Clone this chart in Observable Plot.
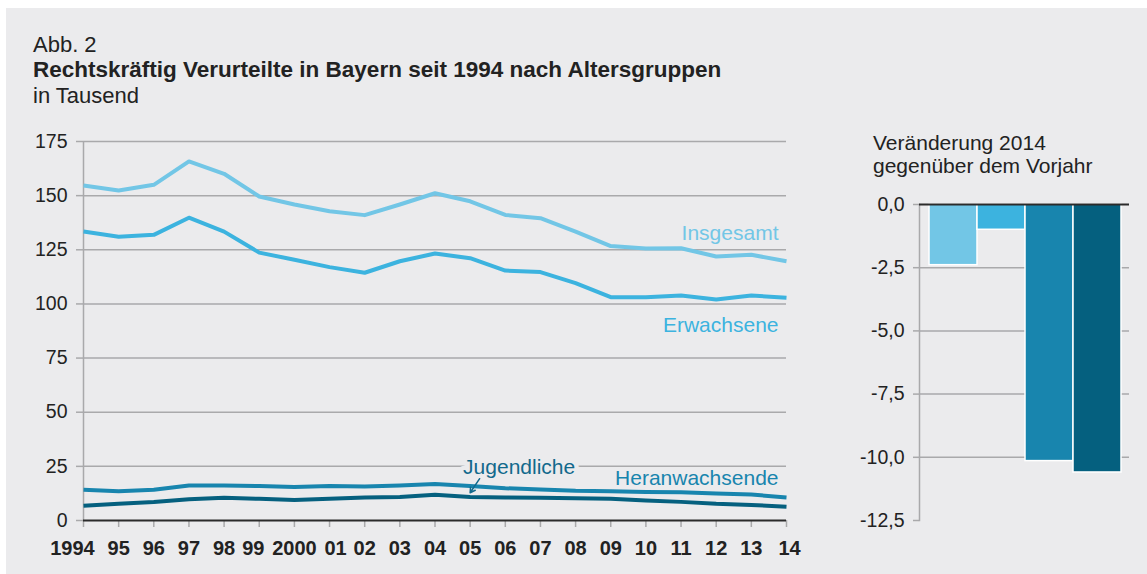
<!DOCTYPE html>
<html><head><meta charset="utf-8">
<script src="https://cdn.jsdelivr.net/npm/d3@7"></script>
<script src="https://cdn.jsdelivr.net/npm/@observablehq/plot@0.6"></script>
<style>
body{margin:0;background:#fff;width:1147px;height:574px;overflow:hidden;position:relative;font-family:"Liberation Sans",Arial,sans-serif;color:#222}
#panel{position:absolute;left:6px;top:8px;width:1141px;height:566px;background:#ebebed}
.t{position:absolute;white-space:nowrap;line-height:1;color:#222}
#left,#right{position:absolute;top:120px}
#left{left:0}
#right{left:830px}
</style></head><body>
<div id="panel"></div>
<div class="t" style="left:33px;top:34px;font-size:22px;">Abb. 2</div>
<div class="t" style="left:33px;top:58.5px;font-size:22.5px;font-weight:bold;">Rechtskräftig Verurteilte in Bayern seit 1994 nach Altersgruppen</div>
<div class="t" style="left:33px;top:84.5px;font-size:22px;">in Tausend</div>
<div class="t" style="left:873px;top:131px;font-size:21px;line-height:23px;">Veränderung 2014<br>gegenüber dem Vorjahr</div>
<div id="left"></div>
<div id="right"></div>
<script>
const years = [1994,1995,1996,1997,1998,1999,2000,2001,2002,2003,2004,2005,2006,2007,2008,2009,2010,2011,2012,2013,2014];
const yearLabels = ["1994","95","96","97","98","99","2000","01","02","03","04","05","06","07","08","09","10","11","12","13","14"];
const seriesNames = ["Insgesamt","Erwachsene","Heranwachsende","Jugendliche"];
const insgesamt = [154.7,152.4,155.0,165.8,160.1,149.6,145.9,142.8,141.0,145.9,151.1,147.4,141.1,139.6,133.4,126.7,125.6,125.7,121.9,122.7,119.7];
const erwachsene = [133.4,131.0,131.9,139.8,133.4,123.7,120.4,117.0,114.4,119.7,123.3,121.1,115.4,114.7,109.6,103.1,103.1,103.9,102.0,103.9,102.8];
const heranwachsende = [14.2,13.5,14.2,16.2,16.2,15.9,15.5,15.9,15.7,16.2,16.9,15.9,14.9,14.3,13.7,13.5,13.2,13.1,12.5,12.0,10.6];
const jugendliche = [6.8,7.7,8.5,9.8,10.5,10.0,9.5,10.0,10.6,10.8,11.9,10.8,10.6,10.5,10.3,10.0,9.2,8.6,7.7,7.2,6.3];
const changes2014 = [-2.4,-1.0,-10.15,-10.6];
const yTicksLeft = [0,25,50,75,100,125,150,175];
const yTicksRight = [0,-2.5,-5,-7.5,-10,-12.5];
const colors = ["#72c6e6","#3cb3df","#1885ae","#05607f"];
const labelColors = ["#72c6e6","#3cb3df","#1885ae","#12698c"];
// annotation arrow (data space) for "Jugendliche"
const arrowJug = [{x1:2005.27,y1:19.3,x2:2005.0,y2:12.8}];

const valuesBySeries = [insgesamt, erwachsene, heranwachsende, jugendliche];
const rows = seriesNames.flatMap((s,i)=>years.map((y,j)=>({series:s, year:y, value:valuesBySeries[i][j]})));
const lastRows = seriesNames.map((s,i)=>({series:s, year:2014, value:valuesBySeries[i][20]}));
const jugRow = [{series:"Jugendliche", year:2005, value:jugendliche[11]}];
const bars = seriesNames.map((s,i)=>({series:s, value:changes2014[i]}));

const grid = "#a9a9ab";
const dark = "#2b2b2b";
const font = "Liberation Sans, Arial, sans-serif";
const colorScale = {domain: seriesNames, range: colors};

// year-label nudges as in the original typesetting
const nudge = new Map([[1994,-11],[1999,-6],[2001,6],[2014,3]]);
const fmtYear = d => yearLabels[years.indexOf(d)];
const yearTextOpts = dx => ({tickSize:0, tickPadding:20, dx, fill:"#222", fontWeight:"bold", fontSize:20, label:null, tickFormat:fmtYear});
const yearTextMarks = [
  Plot.axisX(years.filter(y=>!nudge.has(y)), yearTextOpts(0)),
  ...[...nudge].map(([y,dx]) => Plot.axisX([y], yearTextOpts(dx)))
];

const left = Plot.plot({
  width: 820, height: 454,
  marginLeft: 83, marginRight: 34, marginTop: 21, marginBottom: 54,
  style: {background:"transparent", fontFamily: font, fontSize:"19.5px", color:"#222", overflow:"visible"},
  x: {domain:[1994,2014]},
  y: {domain:[0,175]},
  color: colorScale,
  marks: [
    Plot.gridY(yTicksLeft.filter(d=>d>0), {stroke:grid, strokeOpacity:1, strokeWidth:1.5}),
    Plot.axisY(yTicksLeft, {tickSize:7, tickPadding:9, stroke:grid, strokeWidth:1.5, fill:"#222", label:null, tickFormat:d=>String(d)}),
    Plot.ruleX([1994], {y1:0, y2:175, stroke:grid, strokeWidth:1.5}),
    Plot.axisX(years, {tickSize:7, stroke:grid, strokeWidth:1.5, label:null, tickFormat:()=>""}),
    ...yearTextMarks,
    Plot.ruleY([0], {stroke:dark, strokeWidth:2}),
    Plot.line(rows, {x:"year", y:"value", z:"series", stroke:"series", strokeWidth:4, strokeLinecap:"butt", strokeLinejoin:"round"}),
    Plot.text(lastRows.filter(d=>d.series==="Insgesamt"), {x:"year", y:"value", text:"series", textAnchor:"end", dx:-8, dy:-28, fill:labelColors[0], fontSize:21}),
    Plot.text(lastRows.filter(d=>d.series==="Erwachsene"), {x:"year", y:"value", text:"series", textAnchor:"end", dx:-8, dy:27, fill:labelColors[1], fontSize:21}),
    Plot.text(lastRows.filter(d=>d.series==="Heranwachsende"), {x:"year", y:"value", text:"series", textAnchor:"end", dx:-8, dy:-19.5, fill:labelColors[2], fontSize:21}),
    Plot.text(jugRow, {x:"year", y:"value", text:"series", textAnchor:"middle", dx:49, dy:-30, fill:labelColors[3], stroke:"#ebebed", strokeWidth:9, paintOrder:"stroke", fontSize:21}),
    Plot.arrow(arrowJug, {x1:"x1", y1:"y1", x2:"x2", y2:"y2", stroke:labelColors[3], strokeWidth:1.5, headLength:6})
  ]
});
document.getElementById("left").appendChild(left);

const right = Plot.plot({
  width: 317, height: 454,
  marginLeft: 89, marginRight: 18, marginTop: 84, marginBottom: 54,
  style: {background:"transparent", fontFamily: font, fontSize:"19.5px", color:"#222", overflow:"visible"},
  x: {type:"band", domain: seriesNames, range:[97,292], padding:0, axis:null},
  y: {domain:[-12.5,0]},
  color: colorScale,
  marks: [
    Plot.gridY(yTicksRight.filter(d=>d<0 && d>-12.5), {stroke:grid, strokeOpacity:1, strokeWidth:1.5}),
    Plot.axisY(yTicksRight, {tickSize:6, tickPadding:9, stroke:grid, strokeWidth:1.5, fill:"#222", label:null, tickFormat:d=>d.toFixed(1).replace(".",",")}),
    Plot.frame({anchor:"left", stroke:grid, strokeWidth:1.5}),
    Plot.barY(bars, {x:"series", y:"value", fill:"series", stroke:"white", strokeWidth:1.5}),
    Plot.ruleY([0], {stroke:dark, strokeWidth:2})
  ]
});
document.getElementById("right").appendChild(right);
</script>
</body></html>
